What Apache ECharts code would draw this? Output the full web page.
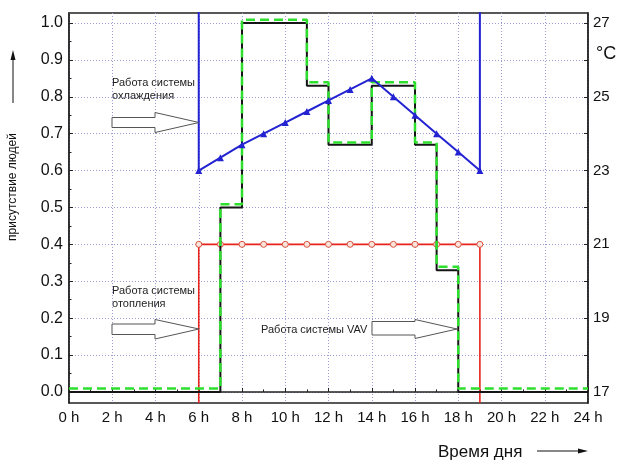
<!DOCTYPE html>
<html>
<head>
<meta charset="utf-8">
<script src="https://cdn.jsdelivr.net/npm/echarts@6/dist/echarts.min.js"></script>
<style>
  html, body { margin: 0; padding: 0; background: #fff; }
  #chart { width: 620px; height: 461px; }
</style>
</head>
<body>
<div id="chart"></div>
<script>
// occupancy steps (left axis, 0..1)
const occHours = [0, 7, 8, 11, 12, 14, 16, 17, 18, 24];
const occValues = [0, 0.5, 1.0, 0.83, 0.67, 0.83, 0.67, 0.33, 0, 0];
const vavValues = [0.009, 0.509, 1.009, 0.839, 0.676, 0.839, 0.676, 0.339, 0.009, 0.009];

// cooling setpoint (right axis, °C)
const coolHours = [6, 6, 7, 8, 9, 10, 11, 12, 13, 14, 15, 16, 17, 18, 19, 19];
const coolTemps = [27.3, 23.0, 23.35, 23.7, 24.0, 24.3, 24.6, 24.9, 25.2, 25.5, 25.0, 24.5, 24.0, 23.5, 23.0, 27.3];

// heating setpoint (right axis, °C)
const heatHours = [6, 6, 7, 8, 9, 10, 11, 12, 13, 14, 15, 16, 17, 18, 19, 19];
const heatTemps = [16.7, 21, 21, 21, 21, 21, 21, 21, 21, 21, 21, 21, 21, 21, 21, 16.7];

// tick values
const leftTicks = [0, 0.1, 0.2, 0.3, 0.4, 0.5, 0.6, 0.7, 0.8, 0.9, 1.0];
const leftMinorTicks = [0.05, 0.15, 0.25, 0.35, 0.45, 0.55, 0.65, 0.75, 0.85, 0.95];
const rightTicks = [17, 18, 19, 20, 21, 22, 23, 24, 25, 26, 27];
const rightLabels = [17, 19, 21, 23, 25, 27];

const FONT = '"Liberation Sans", Arial, sans-serif';
const gridLine = { show: true, lineStyle: { color: '#9c9cd4', type: [1, 2], width: 1 } };

function pairs(xs, ys) {
  return xs.map((x, i) => [x, ys[i]]);
}
// end points of the vertical legs carry no marker
function withEnds(xs, ys) {
  return xs.map((x, i) => {
    const item = { value: [x, ys[i]] };
    if (i === 0 || i === xs.length - 1) item.symbol = 'none';
    return item;
  });
}

const chart = echarts.init(document.getElementById('chart'));
const option = {
  backgroundColor: '#fff',
  animation: false,
  grid: {
    left: 69, right: 32, top: 13, bottom: 58,
    show: true, borderColor: '#222', borderWidth: 1.5,
  },
  xAxis: {
    type: 'value',
    min: 0,
    max: 24,
    interval: 2,
    axisLine: { show: true, lineStyle: { color: '#222', width: 1.5 } },
    axisTick: { show: true, inside: true, length: 4, lineStyle: { color: '#222' } },
    minorTick: { show: true, splitNumber: 2, length: 2.5, lineStyle: { color: '#222' } },
    axisLabel: {
      formatter: '{value} h', color: '#111', fontSize: 15, fontFamily: FONT, margin: 7,
    },
    splitLine: gridLine,
  },
  yAxis: [
    {
      type: 'value',
      min: -0.03,
      max: 1.027,
      position: 'left',
      axisLine: { show: true, lineStyle: { color: '#222', width: 1.5 } },
      axisTick: { show: true, inside: true, length: 4, customValues: leftTicks, lineStyle: { color: '#222' } },
      axisLabel: {
        customValues: leftTicks,
        formatter: (v) => v.toFixed(1),
        color: '#111', fontSize: 16, fontFamily: FONT, margin: 6,
      },
      splitLine: gridLine,
    },
    {
      type: 'value',
      min: 16.7,
      max: 27.27,
      position: 'right',
      axisLine: { show: true, lineStyle: { color: '#222', width: 1.5 } },
      axisTick: { show: true, inside: true, length: 4, customValues: rightTicks, lineStyle: { color: '#222' } },
      axisLabel: {
        customValues: rightLabels,
        color: '#111', fontSize: 15, fontFamily: FONT, margin: 5,
      },
      splitLine: { show: false },
    },
    {
      // minor ticks of the left axis
      type: 'value',
      min: -0.03,
      max: 1.027,
      position: 'left',
      axisLine: { show: false },
      axisTick: { show: true, inside: true, length: 2.5, customValues: leftMinorTicks, lineStyle: { color: '#222' } },
      axisLabel: { show: false },
      splitLine: { show: false },
    },
  ],
  series: [
    {
      name: 'нагрев',
      type: 'line',
      yAxisIndex: 1,
      data: withEnds(heatHours, heatTemps),
      symbol: 'circle',
      symbolSize: 6,
      showAllSymbol: true,
      lineStyle: { color: '#e8231c', width: 1.6 },
      itemStyle: { color: '#fbe4dc', borderColor: '#d9533f', borderWidth: 1 },
      z: 2,
    },
    {
      name: 'присутствие',
      type: 'line',
      step: 'end',
      data: pairs(occHours, occValues),
      symbol: 'none',
      lineStyle: { color: '#151515', width: 2 },
      z: 3,
    },
    {
      name: 'VAV',
      type: 'line',
      step: 'end',
      data: pairs(occHours, vavValues),
      symbol: 'none',
      lineStyle: { color: '#2ee02e', width: 2.5, type: [9, 5] },
      z: 4,
    },
    {
      name: 'охлаждение',
      type: 'line',
      yAxisIndex: 1,
      data: withEnds(coolHours, coolTemps),
      symbol: 'triangle',
      symbolSize: 7,
      showAllSymbol: true,
      lineStyle: { color: '#2323d2', width: 2 },
      itemStyle: { color: '#2323d2' },
      z: 5,
    },
  ],
  graphic: [
    // y axis name with arrow
    {
      type: 'text', x: 13, y: 187, rotation: Math.PI / 2,
      style: { text: 'присутствие людей', font: '12px ' + FONT, fill: '#111', align: 'center', verticalAlign: 'middle' },
    },
    { type: 'line', shape: { x1: 13, y1: 103, x2: 13, y2: 58 }, style: { stroke: '#111', lineWidth: 1 } },
    { type: 'polygon', shape: { points: [[13, 50], [10.5, 60], [15.5, 60]] }, style: { fill: '#111' } },
    // °C
    {
      type: 'text', x: 596, y: 54,
      style: { text: '°C', font: '18px ' + FONT, fill: '#111', align: 'left', verticalAlign: 'middle' },
    },
    // x axis name with arrow
    {
      type: 'text', x: 438, y: 452,
      style: { text: 'Время дня', font: '17px ' + FONT, fill: '#111', align: 'left', verticalAlign: 'middle' },
    },
    { type: 'line', shape: { x1: 537, y1: 451, x2: 580, y2: 451 }, style: { stroke: '#111', lineWidth: 1 } },
    { type: 'polygon', shape: { points: [[588, 451], [578, 448.5], [578, 453.5]] }, style: { fill: '#111' } },
    // cooling annotation
    {
      type: 'text', x: 112, y: 76,
      style: { text: 'Работа системы\nохлаждения', font: '11px ' + FONT, lineHeight: 13, fill: '#222', align: 'left', verticalAlign: 'top' },
    },
    {
      type: 'polygon',
      shape: { points: [[112, 117.5], [155, 117.5], [155, 112.5], [199, 122.5], [155, 132.5], [155, 127.5], [112, 127.5]] },
      style: { fill: '#fff', stroke: '#555', lineWidth: 1 },
      z: 10,
    },
    // heating annotation
    {
      type: 'text', x: 112, y: 284,
      style: { text: 'Работа системы\nотопления', font: '11px ' + FONT, lineHeight: 13, fill: '#222', align: 'left', verticalAlign: 'top' },
    },
    {
      type: 'polygon',
      shape: { points: [[112, 324], [155, 324], [155, 319.5], [199, 329], [155, 339], [155, 334.5], [112, 334.5]] },
      style: { fill: '#fff', stroke: '#555', lineWidth: 1 },
      z: 10,
    },
    // VAV annotation
    {
      type: 'text', x: 261, y: 330,
      style: { text: 'Работа системы VAV', font: '11px ' + FONT, fill: '#222', align: 'left', verticalAlign: 'middle' },
    },
    {
      type: 'polygon',
      shape: { points: [[372, 321.5], [415, 321.5], [415, 319.5], [457, 329], [415, 338.5], [415, 335], [372, 335]] },
      style: { fill: '#fff', stroke: '#555', lineWidth: 1 },
      z: 10,
    },
  ],
};
chart.setOption(option);
window.addEventListener('resize', () => {
  chart.resize();
});
</script>
</body>
</html>
